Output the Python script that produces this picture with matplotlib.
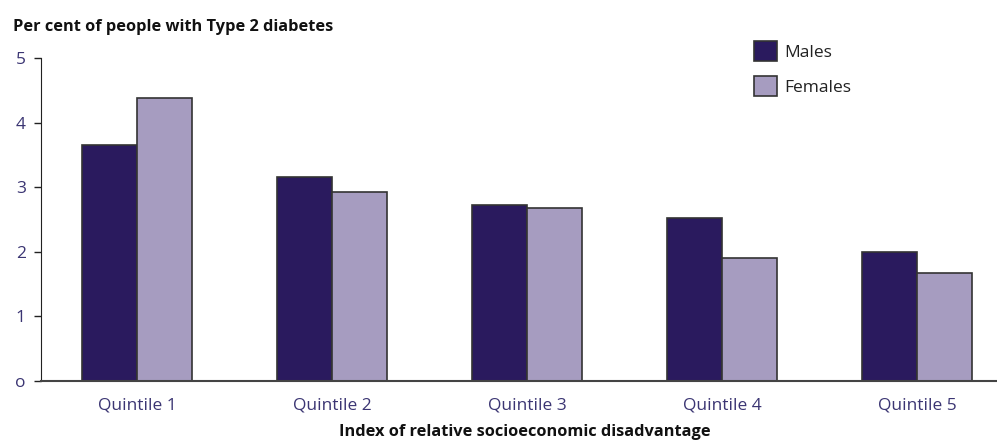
import matplotlib
matplotlib.use("Agg")
import matplotlib.pyplot as plt
import numpy as np

categories = ["Quintile 1", "Quintile 2", "Quintile 3", "Quintile 4", "Quintile 5"]
males = [3.65, 3.16, 2.72, 2.52, 1.99]
females = [4.38, 2.93, 2.68, 1.90, 1.67]
yticks = [0, 1, 2, 3, 4, 5]
ytick_labels = ["o", "1", "2", "3", "4", "5"]

male_color = "#2a1a5e"
female_color = "#a69cc0"
text_color = "#3b3573"

plt.rcParams['font.family'] = ['Open Sans', 'DejaVu Sans']

fig = plt.figure(figsize=(9.97, 4.41), dpi=100)
ax = fig.add_axes([41/997, 1-381/441, 1-41/997, (381-58)/441])

x = np.arange(len(categories))
w = 0.28
ax.bar(x - w/2, males, w, color=male_color, edgecolor="#333333", linewidth=1.2, label="Males")
ax.bar(x + w/2, females, w, color=female_color, edgecolor="#333333", linewidth=1.2, label="Females")

ax.set_xlim(-0.492, 4.41)
ax.set_ylim(0, 5)
ax.set_yticks(yticks)
ax.set_yticklabels(ytick_labels)
ax.set_xticks(x)
ax.set_xticklabels(categories)
ax.tick_params(axis='y', length=5, width=1, colors="#222222", labelcolor=text_color, labelsize=12.5, pad=6)
ax.tick_params(axis='x', length=0, labelcolor=text_color, labelsize=12.5, pad=12)
for s in ["top", "right"]:
    ax.spines[s].set_visible(False)
ax.spines["left"].set_color("#222222")
ax.spines["bottom"].set_color("#444444")
ax.spines["bottom"].set_linewidth(1.5)

fig.text(13/997, 1-27/441, "Per cent of people with Type 2 diabetes", fontsize=11.8,
         fontweight="bold", color="#111111", va="center", ha="left")
fig.text(525/997, 1-432/441, "Index of relative socioeconomic disadvantage", fontsize=11.8,
         fontweight="bold", color="#111111", va="center", ha="center")

leg = ax.legend(loc="upper left", bbox_to_anchor=(754/997, 1-41/441), bbox_transform=fig.transFigure,
                frameon=False, fontsize=12.5, handlelength=1.35, handleheight=1.4,
                labelspacing=0.85, handletextpad=0.4, borderaxespad=0, borderpad=0)
for t in leg.get_texts():
    t.set_color("#222222")

fig.savefig("out.png", dpi=100)
